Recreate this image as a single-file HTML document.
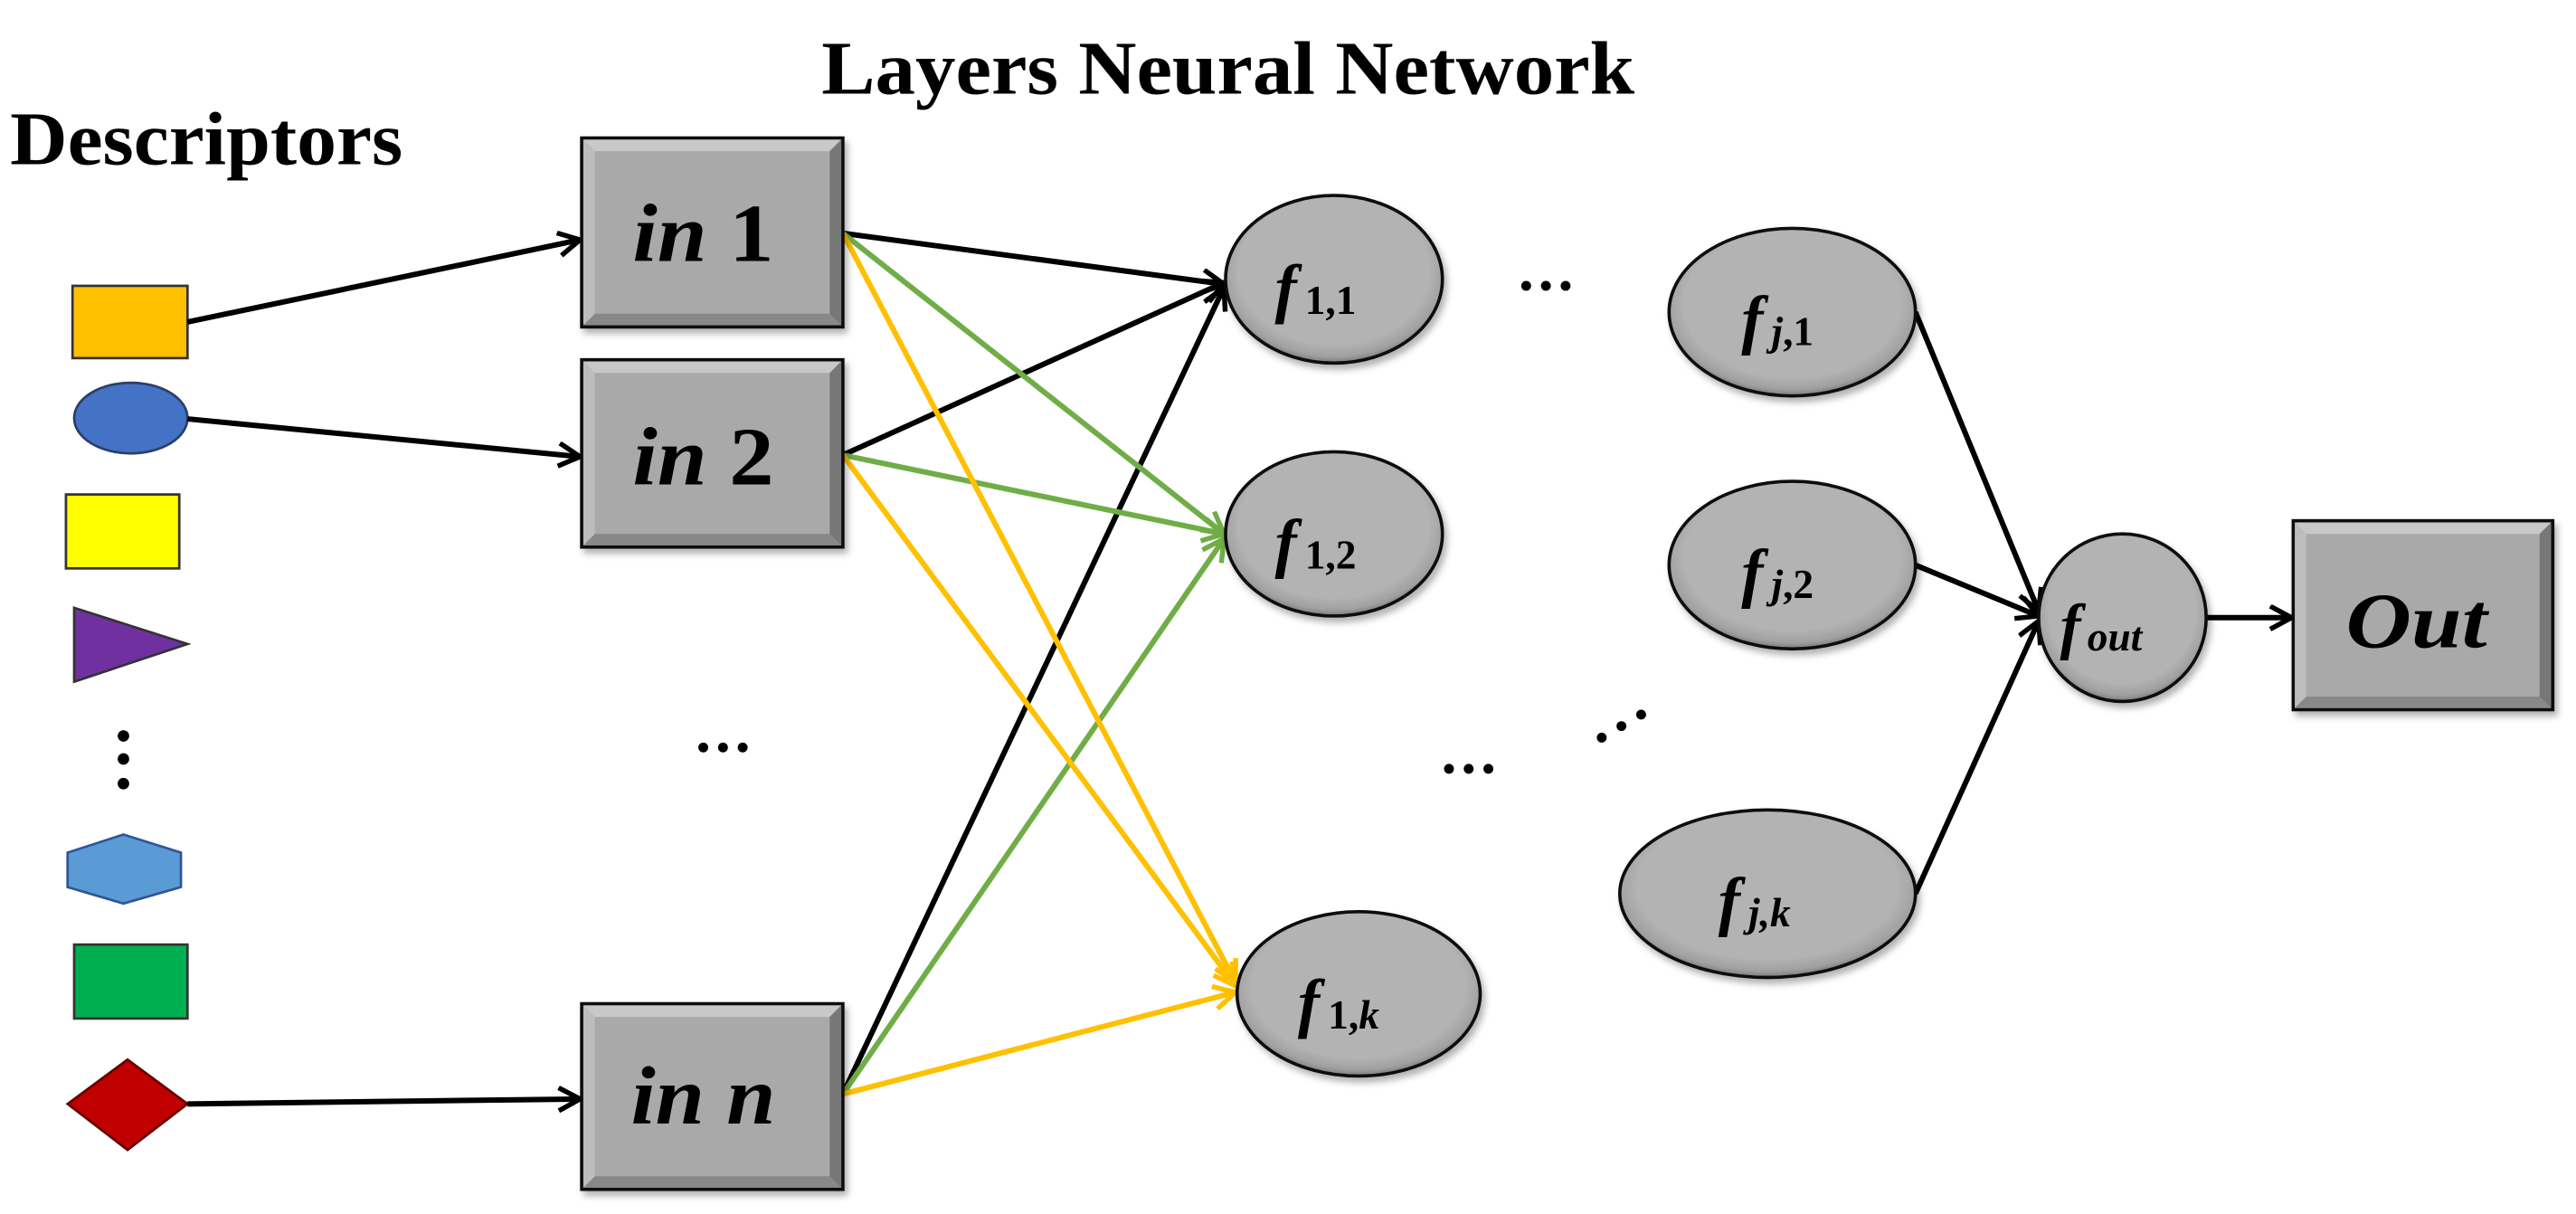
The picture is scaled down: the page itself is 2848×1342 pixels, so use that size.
<!DOCTYPE html>
<html><head><meta charset="utf-8"><style>html,body{margin:0;padding:0;background:#fff}svg{display:block}</style></head>
<body>
<svg width="2848" height="1342" viewBox="0 0 1568 739" xmlns="http://www.w3.org/2000/svg">
<defs>
<marker id="ab" markerUnits="userSpaceOnUse" markerWidth="20" markerHeight="20" refX="15" refY="8" orient="auto"><path d="M2,1 L15,8 L2,15" fill="none" stroke="#000" stroke-width="3"/></marker>
<marker id="ag" markerUnits="userSpaceOnUse" markerWidth="20" markerHeight="20" refX="15" refY="8" orient="auto"><path d="M2,1 L15,8 L2,15" fill="none" stroke="#70ad47" stroke-width="3"/></marker>
<marker id="ao" markerUnits="userSpaceOnUse" markerWidth="20" markerHeight="20" refX="15" refY="8" orient="auto"><path d="M2,1 L15,8 L2,15" fill="none" stroke="#ffc000" stroke-width="3"/></marker>
<radialGradient id="eg" cx="50%" cy="45%" r="55%"><stop offset="0.8" stop-color="#b3b3b3"/><stop offset="0.93" stop-color="#a0a0a0"/><stop offset="1" stop-color="#7a7a7a"/></radialGradient>
<filter id="sh" x="-10%" y="-10%" width="130%" height="130%"><feDropShadow dx="2" dy="3" stdDeviation="2" flood-color="#000" flood-opacity="0.3"/></filter>
</defs>
<g font-family="Liberation Serif, serif" font-weight="bold" fill="#000">
<text x="500" y="57" font-size="46" textLength="495" lengthAdjust="spacingAndGlyphs">Layers Neural Network</text>
<text x="6" y="100" font-size="46" textLength="239" lengthAdjust="spacingAndGlyphs">Descriptors</text>
</g>
<rect x="44" y="174" width="70" height="44" fill="#ffc000" stroke="#333" stroke-width="1.5"/>
<ellipse cx="79.5" cy="254.5" rx="34.5" ry="21.5" fill="#4472c4" stroke="#2a3f6a" stroke-width="1.5"/>
<rect x="40" y="301" width="69" height="45" fill="#ffff00" stroke="#333" stroke-width="1.5"/>
<polygon points="45,370 114,392 45,415" fill="#7030a0" stroke="#333" stroke-width="1.5"/>
<circle cx="75" cy="448" r="3.5"/><circle cx="75" cy="462" r="3.5"/><circle cx="75" cy="477" r="3.5"/>
<polygon points="41,519 75,508 110,519 110,540 75,550 41,540" fill="#5b9bd5" stroke="#2f5597" stroke-width="1.5"/>
<rect x="45" y="575" width="69" height="45" fill="#00b050" stroke="#333" stroke-width="1.5"/>
<polygon points="41,672 77.5,645 114,672 77.5,700" fill="#c00000" stroke="#600" stroke-width="1.5"/>
<g fill="none" stroke-width="3.3">
<line x1="114" y1="196" x2="353" y2="146" stroke="#000" marker-end="url(#ab)"/>
<line x1="114" y1="255" x2="353" y2="278" stroke="#000" marker-end="url(#ab)"/>
<line x1="114" y1="672" x2="353" y2="669" stroke="#000" marker-end="url(#ab)"/>
<line x1="513" y1="142" x2="745" y2="173" stroke="#000" marker-end="url(#ab)"/>
<line x1="513" y1="277" x2="745" y2="172" stroke="#000" marker-end="url(#ab)"/>
<line x1="513" y1="666" x2="745" y2="175" stroke="#000" marker-end="url(#ab)"/>
<line x1="513" y1="142" x2="745" y2="325" stroke="#70ad47" marker-end="url(#ag)"/>
<line x1="513" y1="277" x2="745" y2="325" stroke="#70ad47" marker-end="url(#ag)"/>
<line x1="513" y1="666" x2="745" y2="328" stroke="#70ad47" marker-end="url(#ag)"/>
<line x1="513" y1="142" x2="752" y2="598" stroke="#ffc000" marker-end="url(#ao)"/>
<line x1="513" y1="277" x2="752" y2="600" stroke="#ffc000" marker-end="url(#ao)"/>
<line x1="513" y1="666" x2="752" y2="604" stroke="#ffc000" marker-end="url(#ao)"/>
<line x1="1166" y1="190" x2="1241" y2="372" stroke="#000" marker-end="url(#ab)"/>
<line x1="1166" y1="344" x2="1241" y2="375" stroke="#000" marker-end="url(#ab)"/>
<line x1="1166" y1="544" x2="1241" y2="378" stroke="#000" marker-end="url(#ab)"/>
<line x1="1343" y1="376" x2="1395" y2="376" stroke="#000" marker-end="url(#ab)"/>
</g>
<g filter="url(#sh)">
<g>
<rect x="354" y="84" width="159" height="115" fill="#a9a9a9" stroke="#111" stroke-width="2"/>
<polygon points="355,85 512,85 505,92 362,92" fill="#c8c8c8"/>
<polygon points="355,85 362,92 362,191 355,198" fill="#bdbdbd"/>
<polygon points="512,85 512,198 505,191 505,92" fill="#777"/>
<polygon points="355,198 512,198 505,191 362,191" fill="#888"/>
</g>
<g>
<rect x="354" y="219" width="159" height="114" fill="#a9a9a9" stroke="#111" stroke-width="2"/>
<polygon points="355,220 512,220 505,227 362,227" fill="#c8c8c8"/>
<polygon points="355,220 362,227 362,325 355,332" fill="#bdbdbd"/>
<polygon points="512,220 512,332 505,325 505,227" fill="#777"/>
<polygon points="355,332 512,332 505,325 362,325" fill="#888"/>
</g>
<g>
<rect x="354" y="611" width="159" height="113" fill="#a9a9a9" stroke="#111" stroke-width="2"/>
<polygon points="355,612 512,612 505,619 362,619" fill="#c8c8c8"/>
<polygon points="355,612 362,619 362,716 355,723" fill="#bdbdbd"/>
<polygon points="512,612 512,723 505,716 505,619" fill="#777"/>
<polygon points="355,723 512,723 505,716 362,716" fill="#888"/>
</g>
<g>
<rect x="1396" y="317" width="158" height="115" fill="#a9a9a9" stroke="#111" stroke-width="2"/>
<polygon points="1397,318 1553,318 1546,325 1404,325" fill="#c8c8c8"/>
<polygon points="1397,318 1404,325 1404,424 1397,431" fill="#bdbdbd"/>
<polygon points="1553,318 1553,431 1546,424 1546,325" fill="#777"/>
<polygon points="1397,431 1553,431 1546,424 1404,424" fill="#888"/>
</g>
<ellipse cx="812" cy="170" rx="66" ry="51" fill="url(#eg)" stroke="#111" stroke-width="2"/>
<ellipse cx="812" cy="325" rx="66" ry="50" fill="url(#eg)" stroke="#111" stroke-width="2"/>
<ellipse cx="827" cy="605" rx="74" ry="50" fill="url(#eg)" stroke="#111" stroke-width="2"/>
<ellipse cx="1091" cy="190" rx="75" ry="51" fill="url(#eg)" stroke="#111" stroke-width="2"/>
<ellipse cx="1091" cy="344" rx="75" ry="51" fill="url(#eg)" stroke="#111" stroke-width="2"/>
<ellipse cx="1076" cy="544" rx="90" ry="51" fill="url(#eg)" stroke="#111" stroke-width="2"/>
<ellipse cx="1292" cy="376" rx="51" ry="51" fill="url(#eg)" stroke="#111" stroke-width="2"/>
</g>
<g font-family="Liberation Serif, serif" font-weight="bold" fill="#000">
<text x="385" y="159" font-size="50" textLength="86" lengthAdjust="spacingAndGlyphs"><tspan font-style="italic">in</tspan> 1</text>
<text x="385" y="295" font-size="50" textLength="86" lengthAdjust="spacingAndGlyphs"><tspan font-style="italic">in</tspan> 2</text>
<text x="384" y="684" font-size="50" font-style="italic" textLength="88" lengthAdjust="spacingAndGlyphs">in n</text>
<text x="1428" y="394" font-size="48" font-style="italic" textLength="86" lengthAdjust="spacingAndGlyphs">Out</text>
<text x="776" y="189" font-size="40" font-style="italic">f<tspan font-size="25" font-style="normal" dx="5" dy="2">1,1</tspan></text>
<text x="776" y="344" font-size="40" font-style="italic">f<tspan font-size="25" font-style="normal" dx="5" dy="2">1,2</tspan></text>
<text x="790" y="624" font-size="40" font-style="italic">f<tspan font-size="25" font-style="normal" dx="5" dy="2">1,</tspan><tspan font-size="25">k</tspan></text>
<text x="1060" y="208" font-size="40" font-style="italic">f<tspan font-size="25" dx="5" dy="2">j</tspan><tspan font-size="25" font-style="normal">,1</tspan></text>
<text x="1060" y="362" font-size="40" font-style="italic">f<tspan font-size="25" dx="5" dy="2">j</tspan><tspan font-size="25" font-style="normal">,2</tspan></text>
<text x="1046" y="562" font-size="40" font-style="italic">f<tspan font-size="25" dx="5" dy="2">j</tspan><tspan font-size="25">,k</tspan></text>
<text x="1254" y="394" font-size="38" font-style="italic">f<tspan font-size="25" dx="4" dy="2">out</tspan></text>
</g>
<g fill="#000">
<circle cx="428" cy="455" r="3"/><circle cx="440" cy="455" r="3"/><circle cx="452" cy="455" r="3"/>
<circle cx="929" cy="174" r="3"/><circle cx="941" cy="174" r="3"/><circle cx="953" cy="174" r="3"/>
<circle cx="882" cy="468" r="3"/><circle cx="894" cy="468" r="3"/><circle cx="906" cy="468" r="3"/>
<circle cx="975" cy="449" r="3"/><circle cx="987" cy="442" r="3"/><circle cx="999" cy="435" r="3"/>
</g>
</svg>
</body></html>
